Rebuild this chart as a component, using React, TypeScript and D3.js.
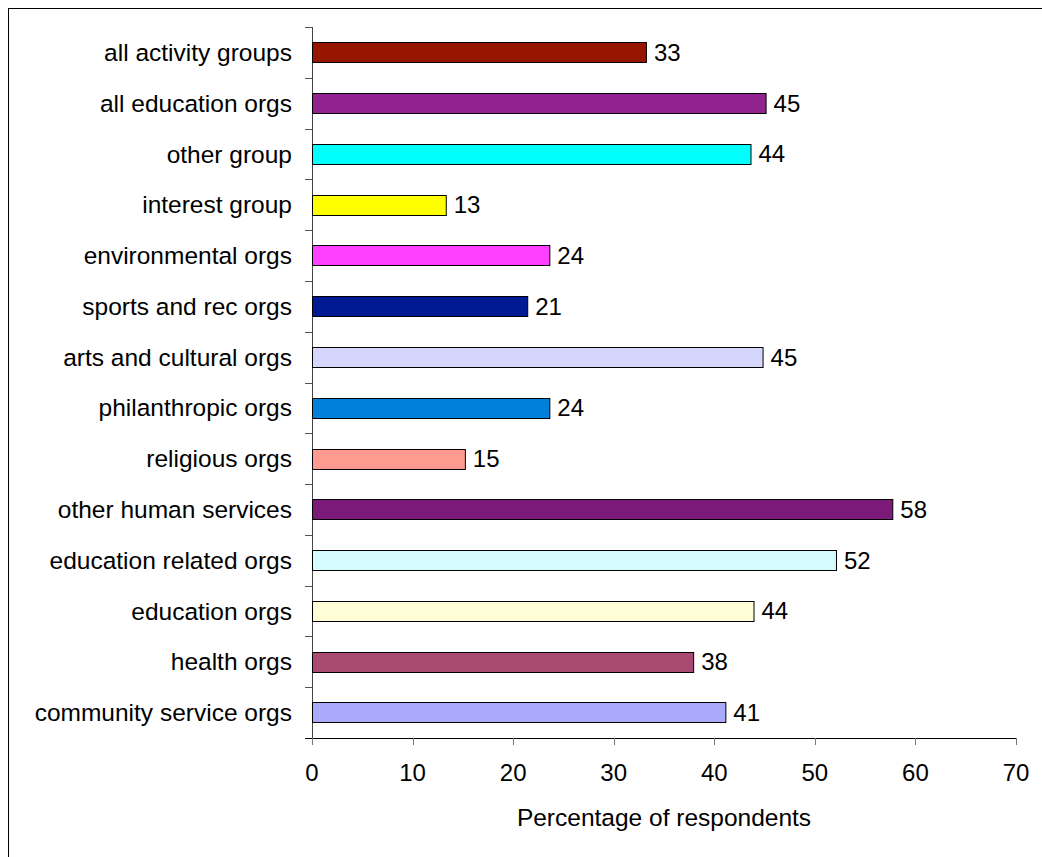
import { useEffect, useRef } from 'react';
import * as d3 from 'd3';

const categories = [
  "all activity groups",
  "all education orgs",
  "other group",
  "interest group",
  "environmental orgs",
  "sports and rec orgs",
  "arts and cultural orgs",
  "philanthropic orgs",
  "religious orgs",
  "other human services",
  "education related orgs",
  "education orgs",
  "health orgs",
  "community service orgs",
];
const values = [33.2, 45.1, 43.6, 13.3, 23.6, 21.4, 44.8, 23.6, 15.2, 57.7, 52.1, 43.9, 37.9, 41.1];
const valueLabels = ["33", "45", "44", "13", "24", "21", "45", "24", "15", "58", "52", "44", "38", "41"];
const colors = [
  "#961600", "#922290", "#00ffff", "#ffff00", "#ff40ff", "#001a93", "#d5d6fc",
  "#0080d8", "#ff9a91", "#7b1a78", "#d4fbfd", "#fffed6", "#a84a72", "#aaaafb",
];
const xTicks = [0, 10, 20, 30, 40, 50, 60, 70];
const xTitle = "Percentage of respondents";

const width = 1034;
const height = 849;
const margin = { top: 19, right: 26, bottom: 119, left: 304 };
const font = "'Liberation Sans', Arial, sans-serif";

const App = () => {
  const ref = useRef<SVGSVGElement | null>(null);

  useEffect(() => {
    const svg = d3.select(ref.current);
    svg.selectAll("*").remove();

    // outer frame (right/bottom edges fall outside the view)
    svg.append("rect")
      .attr("x", 0.5).attr("y", 0.5)
      .attr("width", width + 20).attr("height", height + 20)
      .attr("fill", "#fff").attr("stroke", "#000");

    const x = d3.scaleLinear()
      .domain([0, 70])
      .range([margin.left, width - margin.right]);

    const y = d3.scaleBand()
      .domain(categories)
      .range([margin.top, height - margin.bottom])
      .paddingInner(0.6)
      .paddingOuter(0.3);

    const step = y.step();
    const y0 = margin.top;
    const y1 = height - margin.bottom;

    // left axis: line + ticks at band boundaries
    const boundaries = d3.range(categories.length + 1).map(i => y0 + i * (y1 - y0) / categories.length);
    svg.append("g").selectAll("line")
      .data(boundaries)
      .enter().append("line")
      .attr("x1", margin.left - 7).attr("x2", margin.left)
      .attr("y1", d => Math.round(d) + 0.5).attr("y2", d => Math.round(d) + 0.5)
      .attr("stroke", "#555");
    svg.append("line")
      .attr("x1", margin.left + 0.5).attr("x2", margin.left + 0.5)
      .attr("y1", y0).attr("y2", y1)
      .attr("stroke", "#444");

    // bottom axis
    svg.append("line")
      .attr("x1", margin.left - 7).attr("x2", x(70))
      .attr("y1", y1 + 0.5).attr("y2", y1 + 0.5)
      .attr("stroke", "#000");
    svg.append("g").selectAll("line")
      .data(xTicks)
      .enter().append("line")
      .attr("x1", d => Math.round(x(d)) + 0.5).attr("x2", d => Math.round(x(d)) + 0.5)
      .attr("y1", y1).attr("y2", y1 + 7)
      .attr("stroke", "#777");
    svg.append("g").selectAll("text")
      .data(xTicks)
      .enter().append("text")
      .attr("x", d => x(d))
      .attr("y", y1 + 35)
      .attr("dy", "0.35em")
      .attr("text-anchor", "middle")
      .style("font-family", font)
      .style("font-size", "24px")
      .attr("fill", "#000")
      .text(d => d);

    svg.append("text")
      .attr("x", (x(0) + x(70)) / 2)
      .attr("y", y1 + 79)
      .attr("dy", "0.35em")
      .attr("text-anchor", "middle")
      .style("font-family", font)
      .style("font-size", "24.5px")
      .attr("fill", "#000")
      .text(xTitle);

    // category labels
    svg.append("g").selectAll("text")
      .data(categories)
      .enter().append("text")
      .attr("x", margin.left - 20)
      .attr("y", d => (y(d) as number) + y.bandwidth() / 2)
      .attr("dy", "0.35em")
      .attr("text-anchor", "end")
      .style("font-family", font)
      .style("font-size", "24.5px")
      .attr("fill", "#000")
      .text(d => d);

    // bars
    const bars = svg.append("g").selectAll("g")
      .data(categories)
      .enter().append("g");

    bars.append("rect")
      .attr("x", x(0) + 0.5)
      .attr("y", d => Math.round(y(d) as number) + 0.5)
      .attr("width", (d, i) => x(values[i]) - x(0))
      .attr("height", Math.round(y.bandwidth()))
      .attr("fill", (d, i) => colors[i])
      .attr("stroke", "#000")
      .attr("stroke-width", 1);

    bars.append("text")
      .attr("x", (d, i) => x(values[i]) + 8)
      .attr("y", d => (y(d) as number) + y.bandwidth() / 2)
      .attr("dy", "0.35em")
      .style("font-family", font)
      .style("font-size", "24px")
      .attr("fill", "#000")
      .text((d, i) => valueLabels[i]);

    void step;
  }, []);

  return (
    <svg
      ref={ref}
      width={width}
      height={height}
      style={{ position: "absolute", left: 8, top: 8, display: "block" }}
    />
  );
};

export default App;
